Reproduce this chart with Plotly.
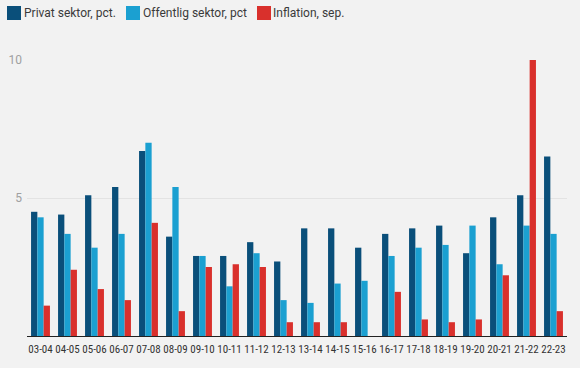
import plotly.graph_objects as go

categories = ["03-04","04-05","05-06","06-07","07-08","08-09","09-10","10-11","11-12","12-13",
              "13-14","14-15","15-16","16-17","17-18","18-19","19-20","20-21","21-22","22-23"]
privat = [4.5,4.4,5.1,5.4,6.7,3.6,2.9,2.9,3.4,2.7,3.9,3.9,3.2,3.7,3.9,4.0,3.0,4.3,5.1,6.5]
offentlig = [4.3,3.7,3.2,3.7,7.0,5.4,2.9,1.8,3.0,1.3,1.2,1.9,2.0,2.9,3.2,3.3,4.0,2.6,4.0,3.7]
inflation = [1.1,2.4,1.7,1.3,4.1,0.9,2.5,2.6,2.5,0.5,0.5,0.5,0.0,1.6,0.6,0.5,0.6,2.2,10.0,0.9]

names = ["Privat sektor, pct.", "Offentlig sektor, pct", "Inflation, sep."]
colors = ["#0a4f7a", "#1ba0d1", "#d9302c"]

L, R, T, B = 27, 13, 60, 32
W, H = 580, 368
pw = W - L - R
ph = H - T - B

def px_x(v):
    return (v - L) / pw

def px_y(v):
    return (H - B - v) / ph

fig = go.Figure()
for name, vals, c in zip(names, [privat, offentlig, inflation], colors):
    fig.add_trace(go.Bar(x=categories, y=vals, name=name, showlegend=False,
                         marker=dict(color=c, line=dict(width=0))))

# custom legend (icon squares + text) placed in pixel positions of the reference
icon_left = [7, 126, 257]
text_left = [24, 143, 273]
for name, c, ix, tx in zip(names, colors, icon_left, text_left):
    fig.add_shape(type="rect", xref="paper", yref="paper",
                  x0=px_x(ix), x1=px_x(ix + 14), y0=px_y(20), y1=px_y(6),
                  fillcolor=c, line=dict(width=0), layer="above")
    fig.add_annotation(xref="paper", yref="paper", x=px_x(tx - 2), y=px_y(13),
                       xanchor="left", yanchor="middle", text=name, showarrow=False,
                       font=dict(family="Roboto", size=12, color="#3a3a3a"))

fig.update_layout(
    width=W, height=H,
    paper_bgcolor="#f2f2f2", plot_bgcolor="#f2f2f2",
    margin=dict(l=L, r=R, t=T, b=B, autoexpand=False),
    barmode="group", bargap=0.3, bargroupgap=0,
    font=dict(family="Roboto", size=12, color="#333"),
    showlegend=False,
    xaxis=dict(type="category", showline=True, linecolor="#222", linewidth=1, ticks="",
               tickfont=dict(family="Liberation Sans Narrow, Roboto Condensed, Roboto", size=11, color="#333"),
               tickangle=0, showgrid=False, automargin=False, ticklabelstandoff=3),
    yaxis=dict(range=[0, 10], tickvals=[5, 10], showgrid=True, gridcolor="#e3e3e3", gridwidth=1,
               tickfont=dict(family="Roboto", size=12, color="#a0a0a0"), zeroline=False,
               ticks="", ticklen=0, ticklabelstandoff=4, automargin=False),
)
fig.write_html("out.html", config={"displayModeBar": False},
               post_script="document.body.style.margin='0';")
